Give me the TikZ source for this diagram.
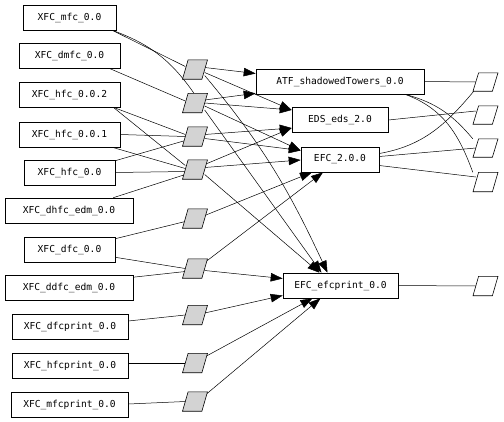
\documentclass[tikz,border=0pt]{standalone}
\usepackage{fontspec}
\setmonofont{DejaVu Sans Mono}
\usetikzlibrary{arrows.meta}
\definecolor{procgray}{RGB}{211,211,211}
\begin{document}
\begin{tikzpicture}[x=1pt,y=1pt,
  box/.style={draw, rectangle, inner sep=0pt, line width=0.6pt,
    font=\ttfamily\fontsize{9.6}{11}\selectfont, minimum height=25pt},
  proc/.style={rectangle, draw=none, minimum width=19pt, minimum height=19pt, inner sep=0pt},
  procshape/.style={draw, line width=0.6pt, fill=procgray},
  sinkshape/.style={draw, line width=0.6pt, fill=white},
  ln/.style={line width=0.5pt},
  arr/.style={line width=0.5pt, -{Triangle[length=12pt,width=8.5pt]}}]
\useasboundingbox (0,0) rectangle (504,-421);
% left boxes
\node[box, minimum width=93pt]  (mfc)    at (69.5,-17.5)  {XFC\_mfc\_0.0};
\node[box, minimum width=101pt] (dmfc)   at (69.5,-56)    {XFC\_dmfc\_0.0};
\node[box, minimum width=101pt] (hfcb)   at (69.5,-94.5)  {XFC\_hfc\_0.0.2};
\node[box, minimum width=101pt] (hfca)   at (69.5,-134.5) {XFC\_hfc\_0.0.1};
\node[box, minimum width=91pt]  (hfc)    at (69.5,-172.5) {XFC\_hfc\_0.0};
\node[box, minimum width=128pt] (dhfc)   at (69,-210.5)   {XFC\_dhfc\_edm\_0.0};
\node[box, minimum width=91pt]  (dfc)    at (69.5,-249.5) {XFC\_dfc\_0.0};
\node[box, minimum width=128pt] (ddfc)   at (69,-288)     {XFC\_ddfc\_edm\_0.0};
\node[box, minimum width=116pt] (dfcp)   at (70,-326.5)   {XFC\_dfcprint\_0.0};
\node[box, minimum width=116pt] (hfcp)   at (70,-365.5)   {XFC\_hfcprint\_0.0};
\node[box, minimum width=117pt] (mfcp)   at (69.5,-404.5) {XFC\_mfcprint\_0.0};
% process nodes (outline drawn below)
\node[proc] (p1) at (195,-69.5) {};
\node[proc] (p2) at (195,-103) {};
\node[proc] (p3) at (195,-136.5) {};
\node[proc] (p4) at (195,-169.5) {};
\node[proc] (p5) at (195,-218.5) {};
\node[proc] (p6) at (195,-268.5) {};
\node[proc] (p7) at (195,-315) {};
\node[proc] (p8) at (195,-363) {};
\node[proc] (p9) at (195,-401.5) {};
% right boxes
\node[box, minimum width=168pt] (atf)  at (340,-81.5)  {ATF\_shadowedTowers\_0.0};
\node[box, minimum width=96pt]  (eds)  at (340,-120)   {EDS\_eds\_2.0};
\node[box, minimum width=78pt]  (efc)  at (340,-159.5) {EFC\_2.0.0};
\node[box, minimum width=115pt] (efcp) at (340.5,-285.5) {EFC\_efcprint\_0.0};
% sinks
\node[proc, minimum height=18pt] (r1) at (485.5,-82) {};
\node[proc, minimum height=18pt] (r2) at (485.5,-115) {};
\node[proc, minimum height=18pt] (r3) at (485.5,-148) {};
\node[proc, minimum height=19pt] (r4) at (485.5,-182) {};
\node[proc, minimum height=19pt] (r5) at (485.5,-286) {};
% inputs to processes
\draw[ln] ([xshift=-4pt]mfc.south east) -- ([yshift=3pt]p1.west);
\draw[ln] ([xshift=-4pt]mfc.south east) to[out=-20,in=125] ([xshift=-1pt]p2.north);
\draw[ln] ([xshift=-10pt]dmfc.south east) -- ([yshift=2pt]p2.west);
\draw[ln] ([xshift=-7pt]hfcb.south east) -- ([yshift=2pt]p3.west);
\draw[ln] ([xshift=-7pt]hfcb.south east) -- ([yshift=4pt]p4.west);
\draw[ln] (hfca.east) -- (p3.west);
\draw[ln] ([xshift=-8pt]hfca.south east) -- ([yshift=1pt]p4.west);
\draw[ln] ([yshift=-1pt]hfc.north east) -- ([yshift=-4pt]p3.west);
\draw[ln] (hfc.east) -- ([yshift=-2pt]p4.west);
\draw[ln] ([xshift=-20pt]dhfc.north east) -- ([yshift=-5pt]p4.west);
\draw[ln] ([yshift=-2pt]dfc.north east) -- ([yshift=-3pt]p5.west);
\draw[ln] ([yshift=5pt]dfc.south east) -- ([yshift=0pt]p6.west);
\draw[ln] ([yshift=-2pt]ddfc.north east) -- ([yshift=-3pt]p6.west);
\draw[ln] ([yshift=5.5pt]dfcp.east) -- (p7.west);
\draw[ln] ([yshift=2.5pt]hfcp.east) -- (p8.west);
\draw[ln] ([yshift=0.5pt]mfcp.east) -- (p9.west);
% processes to outputs
\draw[arr] ([yshift=2pt]p1.east) -- ([yshift=8pt]atf.west);
\draw[arr] ([yshift=-3pt]p1.east) -- ([yshift=10pt]eds.west);
\draw[arr] ([yshift=-6pt]p1.east) to[out=-50,in=115] ([xshift=-13pt]efcp.north);
\draw[arr] ([yshift=3pt]p2.east) -- ([yshift=1pt]atf.south west);
\draw[arr] (p2.east) -- ([yshift=10pt]eds.west);
\draw[arr] ([yshift=-3pt]p2.east) -- ([yshift=9pt]efc.west);
\draw[arr] ([yshift=-7pt]p2.east) -- ([xshift=-19pt]efcp.north);
\draw[arr] ([yshift=2pt]p3.east) -- ([yshift=-8pt]eds.west);
\draw[arr] ([yshift=-2pt]p3.east) -- ([yshift=9pt]efc.west);
\draw[arr] ([yshift=5pt]p4.east) -- ([yshift=-8pt]eds.west);
\draw[arr] ([yshift=2pt]p4.east) -- ([yshift=-0.5pt]efc.west);
\draw[arr] ([yshift=-5pt]p4.east) -- ([xshift=-21pt]efcp.north);
\draw[arr] ([yshift=3pt]p5.east) -- ([xshift=-28pt]efc.south);
\draw[arr] ([yshift=6pt]p6.east) -- ([xshift=-17pt]efc.south);
\draw[arr] ([yshift=-2pt]p6.east) -- ([yshift=7pt]efcp.west);
\draw[arr] ([yshift=2pt]p7.east) -- ([yshift=-10pt]efcp.west);
\draw[arr] ([yshift=6pt]p8.east) -- ([xshift=-28pt]efcp.south);
\draw[arr] ([yshift=6pt]p9.east) -- ([xshift=-20pt]efcp.south);
% outputs to sinks
\draw[ln] (atf.east) -- (r1.west);
\draw[ln] ([xshift=65pt]atf.south) to[out=-15,in=130] ([xshift=-3pt]r3.north west);
\draw[ln] ([xshift=65pt]atf.south) to[out=-20,in=110] ([xshift=-3pt]r4.north west);
\draw[ln] (eds.east) -- ([yshift=4pt]r2.west);
\draw[ln] ([yshift=6pt]efc.east) to[out=10,in=-130] ([xshift=-2pt]r1.south west);
\draw[ln] ([yshift=3pt]efc.east) -- (r3.west);
\draw[ln] ([yshift=-6pt]efc.east) -- ([yshift=5pt]r4.west);
\draw[ln] (efcp.east) -- (r5.west);
% parallelogram outlines
\foreach \n in {p1,p2,p3,p4,p5,p6,p7,p8,p9}
  \draw[procshape] ([xshift=-2.8pt]\n.south west) -- ([xshift=-2.8pt]\n.south east)
    -- ([xshift=2.8pt]\n.north east) -- ([xshift=2.8pt]\n.north west) -- cycle;
\foreach \n in {r1,r2,r3,r4,r5}
  \draw[sinkshape] ([xshift=-2.8pt]\n.south west) -- ([xshift=-2.8pt]\n.south east)
    -- ([xshift=2.8pt]\n.north east) -- ([xshift=2.8pt]\n.north west) -- cycle;
\end{tikzpicture}
\end{document}
